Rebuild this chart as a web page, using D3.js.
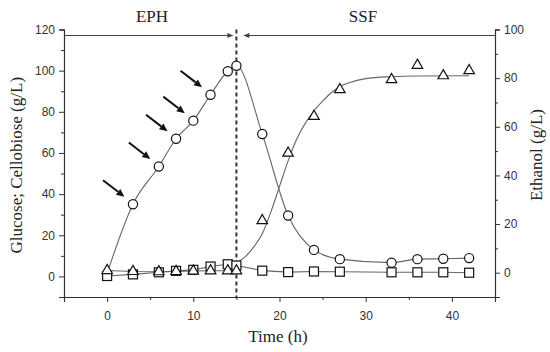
<!DOCTYPE html>
<html>
<head>
<meta charset="utf-8">
<script src="https://cdn.jsdelivr.net/npm/d3@7"></script>
<style>
  body { margin: 0; background: #fff; }
  svg { display: block; }
</style>
</head>
<body>
<svg id="chart" width="550" height="352"></svg>
<script>
// sampling times (h)
const time = [0, 3, 6, 8, 10, 12, 14, 15, 18, 21, 24, 27, 33, 36, 39, 42];
// glucose (g/L, left axis), circles; first point has no visible marker
const glucose = [1.5, 35.1, 53.4, 66.9, 75.7, 88.3, 99.7, 102.4, 69.2, 29.6, 12.9, 8.4, 6.7, 8.4, 8.6, 8.9];
// cellobiose (g/L, left axis), squares
const cellobiose = [0.2, 1.0, 2.0, 2.7, 3.2, 4.8, 5.9, 5.3, 2.8, 2.1, 2.4, 2.3, 2.0, 2.0, 2.0, 1.8];
// ethanol (g/L, right axis), triangles
const ethanol = [0.9, 0.5, 0.4, 0.5, 0.7, 0.8, 0.8, 0.8, 21.4, 49.2, 64.3, 75.3, 79.4, 85.3, 81.0, 83.1];
// fitted ethanol curve during SSF
const ethanolFitT = [15, 16, 17, 18, 19, 20, 21, 22, 23, 24, 25, 26, 27, 28, 30, 33, 36, 42];
const ethanolFitV = [4, 6.5, 10.5, 16, 25, 35.5, 46, 55, 61.5, 66.5, 70.5, 74, 76.5, 78, 79.8, 80.6, 80.9, 81];
// enzyme/substrate feeding times marked by arrows
const feedTimes = [3, 6, 8, 10, 12];
const switchTime = 15;

const xTicks = [0, 10, 20, 30, 40];
const leftTicks = [0, 20, 40, 60, 80, 100, 120];
const rightTicks = [0, 20, 40, 60, 80, 100];

const svg = d3.select("#chart");
const serif = "'Liberation Serif', 'Times New Roman', serif";
const sans = "'Liberation Sans', Arial, sans-serif";

const x = d3.scaleLinear().domain([-5, 45]).range([64, 495]);
const yL = d3.scaleLinear().domain([-10, 120]).range([297, 29.5]);
const yR = d3.scaleLinear().domain([-10, 100]).range([297, 29.5]);

function styleAxis(g)
{
    g.select(".domain").attr("stroke", "#333").attr("stroke-width", 1.1);
    g.selectAll(".tick line").attr("stroke", "#333");
    g.selectAll(".tick text").attr("fill", "#333").attr("font-family", sans).attr("font-size", 12);
}

// minor ticks first, then major ticks with labels
svg.append("g")
    .attr("transform", `translate(0,${yL(-10)})`)
    .call(d3.axisBottom(x).tickValues([-5, 5, 15, 25, 35, 45]).tickSize(3).tickFormat(""))
    .call(styleAxis);
svg.append("g")
    .attr("transform", `translate(0,${yL(-10)})`)
    .call(d3.axisBottom(x).tickValues(xTicks).tickSize(5).tickPadding(9))
    .call(styleAxis);

svg.append("g")
    .attr("transform", `translate(${x(-5)},0)`)
    .call(d3.axisLeft(yL).tickValues([-10, 10, 30, 50, 70, 90, 110]).tickSize(3).tickFormat(""))
    .call(styleAxis);
svg.append("g")
    .attr("transform", `translate(${x(-5)},0)`)
    .call(d3.axisLeft(yL).tickValues(leftTicks).tickSize(5).tickPadding(4))
    .call(styleAxis);

svg.append("g")
    .attr("transform", `translate(${x(45)},0)`)
    .call(d3.axisRight(yR).tickValues([-10, 10, 30, 50, 70, 90]).tickSize(3).tickFormat(""))
    .call(styleAxis);
svg.append("g")
    .attr("transform", `translate(${x(45)},0)`)
    .call(d3.axisRight(yR).tickValues(rightTicks).tickSize(5).tickPadding(4))
    .call(styleAxis);

// axis titles
svg.append("text")
    .attr("transform", `translate(22,${(yL.range()[0] + yL.range()[1]) / 2 + 2}) rotate(-90)`)
    .attr("text-anchor", "middle")
    .attr("font-family", serif).attr("font-size", 17).attr("fill", "#222")
    .text("Glucose; Cellobiose (g/L)");
svg.append("text")
    .attr("transform", `translate(542,155) rotate(-90)`)
    .attr("text-anchor", "middle")
    .attr("font-family", serif).attr("font-size", 17).attr("fill", "#222")
    .text("Ethanol (g/L)");
svg.append("text")
    .attr("x", 278).attr("y", 342)
    .attr("text-anchor", "middle")
    .attr("font-family", serif).attr("font-size", 17).attr("fill", "#222")
    .text("Time (h)");

// phase annotations
const xs = x(switchTime);
const arrowY = 35.5;
svg.append("text").attr("x", 152).attr("y", 22).attr("text-anchor", "middle")
    .attr("font-family", serif).attr("font-size", 17).attr("fill", "#222").text("EPH");
svg.append("text").attr("x", 363).attr("y", 22).attr("text-anchor", "middle")
    .attr("font-family", serif).attr("font-size", 17).attr("fill", "#222").text("SSF");

const phase = svg.append("g").attr("stroke", "#444").attr("fill", "#444");
phase.append("line").attr("x1", x(-5)).attr("x2", xs - 4).attr("y1", arrowY).attr("y2", arrowY).attr("stroke-width", 1);
phase.append("path").attr("d", `M${xs - 3},${arrowY} l-6,-2.5 v5 z`).attr("stroke", "none");
phase.append("line").attr("x1", xs + 8).attr("x2", x(45)).attr("y1", arrowY).attr("y2", arrowY).attr("stroke-width", 1);
phase.append("path").attr("d", `M${xs + 7},${arrowY} l6,-2.5 v5 z`).attr("stroke", "none");

svg.append("line")
    .attr("x1", xs).attr("x2", xs)
    .attr("y1", yL.range()[1]).attr("y2", yL.range()[0])
    .attr("stroke", "#333").attr("stroke-width", 2)
    .attr("stroke-dasharray", "4,3");

// lines
const lineColor = "#666";
const gl = d3.line().x(d => x(d[0])).y(d => yL(d[1])).curve(d3.curveMonotoneX);
svg.append("path")
    .datum(time.map((t, i) => [t, glucose[i]]))
    .attr("d", gl).attr("fill", "none").attr("stroke", lineColor).attr("stroke-width", 1.1);

const cl = d3.line().x(d => x(d[0])).y(d => yL(d[1]));
svg.append("path")
    .datum(time.map((t, i) => [t, cellobiose[i]]))
    .attr("d", cl).attr("fill", "none").attr("stroke", lineColor).attr("stroke-width", 1.1);

const el = d3.line().x(d => x(d[0])).y(d => yR(d[1]));
svg.append("path")
    .datum(time.map((t, i) => [t, ethanol[i]]).filter(d => d[0] <= switchTime))
    .attr("d", el).attr("fill", "none").attr("stroke", lineColor).attr("stroke-width", 1.1);
svg.append("path")
    .datum(ethanolFitT.map((t, i) => [t, ethanolFitV[i]]))
    .attr("d", el.curve(d3.curveMonotoneX)).attr("fill", "none").attr("stroke", lineColor).attr("stroke-width", 1.1);

// markers
const mk = svg.append("g").attr("fill", "#fff").attr("stroke", "#111").attr("stroke-width", 1.2);
mk.selectAll(".sq")
    .data(time.map((t, i) => [t, cellobiose[i]]))
    .join("rect")
        .attr("x", d => x(d[0]) - 4.5).attr("y", d => yL(d[1]) - 4.5)
        .attr("width", 9).attr("height", 9);
const tri = d3.symbol().type(d3.symbolTriangle).size(48);
mk.selectAll(".tri")
    .data(time.map((t, i) => [t, ethanol[i]]))
    .join("path")
        .attr("transform", d => `translate(${x(d[0])},${yR(d[1])})`)
        .attr("d", tri);
mk.selectAll(".ci")
    .data(time.map((t, i) => [t, glucose[i]]).filter(d => d[0] > 0))
    .join("circle")
        .attr("cx", d => x(d[0])).attr("cy", d => yL(d[1])).attr("r", 4.6);

// feeding arrows
const feed = svg.append("g");
feedTimes.forEach(t => {
    const i = time.indexOf(t);
    const cx = x(t), cy = yL(glucose[i]);
    const x0 = cx - 30, y0 = cy - 24, x1 = cx - 8.5, y1 = cy - 7.5;
    const a = Math.atan2(y1 - y0, x1 - x0);
    const hl = 8, hw = 3.6;
    const bx = x1 - hl * Math.cos(a), by = y1 - hl * Math.sin(a);
    feed.append("line")
        .attr("x1", x0).attr("y1", y0).attr("x2", bx).attr("y2", by)
        .attr("stroke", "#111").attr("stroke-width", 2);
    feed.append("path")
        .attr("d", `M${x1},${y1} L${bx - hw * Math.sin(a)},${by + hw * Math.cos(a)} L${bx + hw * Math.sin(a)},${by - hw * Math.cos(a)} Z`)
        .attr("fill", "#111");
});
</script>
</body>
</html>
